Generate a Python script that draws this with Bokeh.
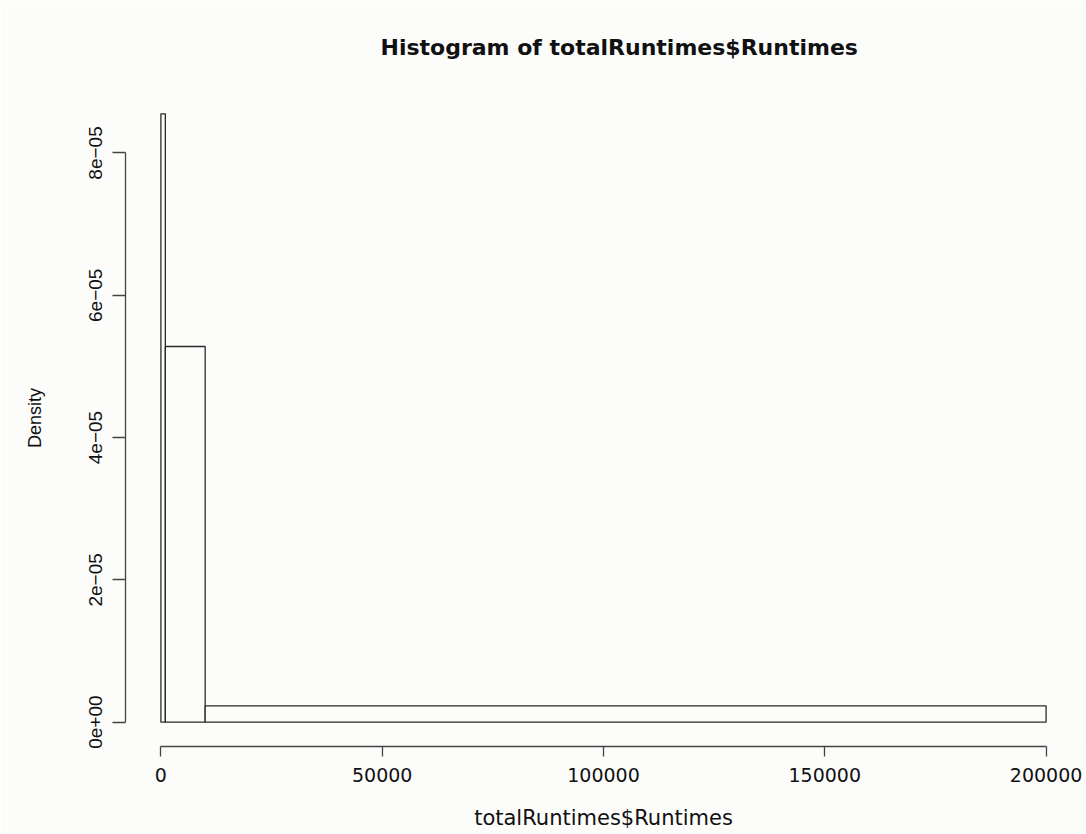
from bokeh.plotting import figure
from bokeh.models import Range1d, FixedTicker, CustomJSTickFormatter, BasicTickFormatter
from bokeh.embed import file_html
from bokeh.resources import INLINE

# Histogram data
breaks = [0, 1000, 10000, 200000]
density = [8.55e-05, 5.28e-05, 2.3e-06]

x_ticks = [0, 50000, 100000, 150000, 200000]
y_ticks = [0, 2e-05, 4e-05, 6e-05, 8e-05]

title_text = "Histogram of totalRuntimes$Runtimes"
x_label = "totalRuntimes$Runtimes"
y_label = "Density"

BG = "#fcfdfb"
AX = "#444444"

# R-style 4% range extension
xmin, xmax = min(breaks), max(breaks)
ymin, ymax = 0.0, max(density)
xpad = 0.04 * (xmax - xmin)
ypad = 0.04 * (ymax - ymin)

p = figure(width=1086, height=834, output_backend="svg", toolbar_location=None,
           x_range=Range1d(xmin - xpad, xmax + xpad),
           y_range=Range1d(ymin - ypad, ymax + ypad),
           min_border_left=125, min_border_right=5, min_border_top=89, min_border_bottom=88)

p.background_fill_color = BG
p.border_fill_color = BG
p.outline_line_color = None
p.xgrid.visible = False
p.ygrid.visible = False

p.quad(left=breaks[:-1], right=breaks[1:], bottom=0, top=density,
       fill_color=BG, line_color="#2a2a2a", line_width=1.3)

# Title
p.title.text = title_text
p.title.align = "left"
p.title.offset = 255
p.title.text_font = "DejaVu Sans"
p.title.text_font_size = "22px"
p.title.text_font_style = "bold"
p.title.text_color = "#111111"
p.title.standoff = 60

# X axis
xa = p.xaxis[0]
xa.ticker = FixedTicker(ticks=x_ticks)
xa.formatter = BasicTickFormatter(use_scientific=False)
xa.bounds = (xmin, xmax)
xa.axis_line_color = AX
xa.axis_line_width = 1.3
xa.major_tick_line_color = AX
xa.major_tick_line_width = 1.3
xa.major_tick_out = 10
xa.major_tick_in = 0
xa.minor_tick_line_color = None
xa.major_label_text_font = "DejaVu Sans"
xa.major_label_text_font_size = "19px"
xa.major_label_text_color = "#111111"
xa.major_label_standoff = 11
xa.axis_label = x_label
xa.axis_label_text_font = "DejaVu Sans"
xa.axis_label_text_font_size = "21px"
xa.axis_label_text_font_style = "normal"
xa.axis_label_text_color = "#111111"
xa.axis_label_standoff = 21

# Y axis
ya = p.yaxis[0]
ya.ticker = FixedTicker(ticks=y_ticks)
ya.formatter = CustomJSTickFormatter(code="""
    if (Math.abs(tick) < 1e-20) { return "0e+00"; }
    const s = tick.toExponential(0);
    const parts = s.split("e");
    const e = parseInt(parts[1]);
    const sign = e < 0 ? "\u2212" : "+";
    const ex = Math.abs(e).toString().padStart(2, "0");
    return parts[0] + "e" + sign + ex;
""")
ya.bounds = (ymin, max(y_ticks))
ya.axis_line_color = AX
ya.axis_line_width = 1.3
ya.major_tick_line_color = AX
ya.major_tick_line_width = 1.3
ya.major_tick_out = 13
ya.major_tick_in = 0
ya.minor_tick_line_color = None
ya.major_label_orientation = "parallel"
ya.major_label_text_font = "Liberation Sans"
ya.major_label_text_font_size = "19px"
ya.major_label_text_color = "#111111"
ya.major_label_standoff = 10
ya.axis_label = y_label
ya.axis_label_text_font = "Liberation Sans"
ya.axis_label_text_font_size = "18px"
ya.axis_label_text_font_style = "normal"
ya.axis_label_text_color = "#111111"
ya.axis_label_standoff = 42

open("out.html", "w").write(file_html(p, INLINE))
